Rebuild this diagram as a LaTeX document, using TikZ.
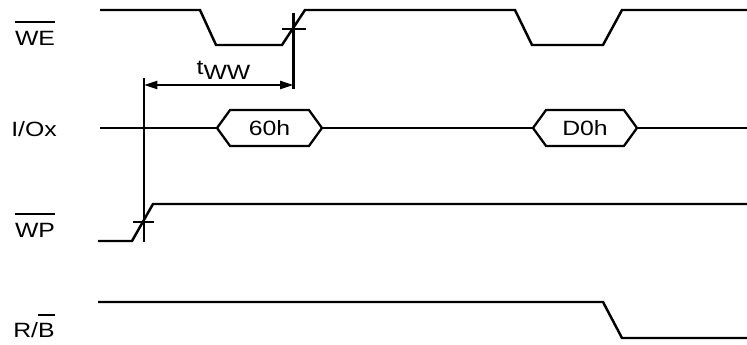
\documentclass[tikz,border=0pt]{standalone}
\usepackage{fontspec}
\setmainfont[FakeStretch=1.2]{Liberation Sans}
\usetikzlibrary{shapes.symbols,arrows.meta}
\newcommand{\barred}[1]{\setbox0\hbox{#1}\rlap{\rule[\dimexpr\ht0+6pt]{\wd0}{1.4pt}}#1}
\newdimen\pxu \pxu=0.75pt
\tikzset{
  wave/.style={line width=1.85pt, line join=miter},
  lbl/.style={font=\fontsize{15.5}{18}\selectfont, inner sep=0pt},
  bus/.style={signal, signal to=east and west, signal pointer angle=108, draw, line width=1.7pt,
    minimum width=105\pxu, minimum height=36\pxu, inner sep=0pt, font=\fontsize{15.5}{18}\selectfont},
  tick/.style={line width=1.7pt}
}
\begin{document}
\begin{tikzpicture}[x=0.75pt, y=-0.75pt]
			\def \hi{10}
			\def \lo{45}
			\def \io{128}
			\useasboundingbox (0, 0) rectangle (747, 345);
			% signal names
			\node[lbl] (nwe) at (35, 33) {\barred{WE}};
			\node[lbl] (nio) at (34, 129) {I/Ox};
			\node[lbl] (nwp) at (35, 225) {\barred{WP}};
			\node[lbl] (nrb) at (34, 326) {R/\barred{B}};
			% WE
			\draw[wave] (100, \hi) -- (200, \hi) -- (216, \lo) -- (282, \lo) -- (305, \hi)
				-- (515, \hi) -- (532, \lo) -- (603, \lo) -- (622, \hi) -- (747, \hi);
			% I/Ox
			\node[bus, minimum width=105\pxu] (cmdA) at (269.5, \io) {60h};
			\node[bus, minimum width=104\pxu] (cmdB) at (585, \io) {D0h};
			\coordinate (ioL) at (100, \io);
			\coordinate (ioR) at (747, \io);
			\draw[wave] (ioL) -- (cmdA.west);
			\draw[wave] (cmdA.east) -- (cmdB.west);
			\draw[wave] (cmdB.east) -- (ioR);
			% WP
			\draw[wave] (98, 241) -- (132, 241) -- (153, 204) -- (747, 204);
			% R/B
			\draw[wave] (98, 302) -- (603, 302) -- (622, 338) -- (747, 338);
			% tWW
			\draw[tick] (293.5, 13) -- (293.5, 89);
			\draw[tick] (144, 78) -- (144, 242);
			\draw[tick] (282, 29) -- (306, 29);
			\draw[tick] (133, 222) -- (154, 222);
			\coordinate (twwL) at (144, 85);
			\coordinate (twwR) at (293.5, 85);
			\draw[tick, {Triangle[length=10pt,width=6pt]}-{Triangle[length=10pt,width=6pt]}] (twwL) -- (twwR);
			\node[lbl] (tww) at (223.5, 70) {t\raisebox{-4pt}{WW}};
		\end{tikzpicture}
\end{document}
